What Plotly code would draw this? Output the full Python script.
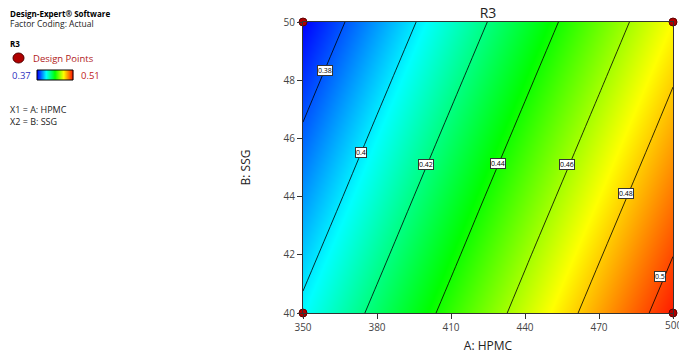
import plotly.graph_objects as go
from plotly.colors import sample_colorscale

# Factor grid (A: HPMC, B: SSG) and response R3
hpmc = [350, 380, 410, 440, 470, 500]
ssg = [40, 42, 44, 46, 48, 50]
r3 = [
    [0.4026, 0.4234, 0.4442, 0.4650, 0.4859, 0.5067],  # B=40
    [0.3957, 0.4165, 0.4373, 0.4582, 0.4790, 0.4998],  # B=42
    [0.3888, 0.4096, 0.4305, 0.4513, 0.4721, 0.4929],  # B=44
    [0.3819, 0.4028, 0.4236, 0.4444, 0.4652, 0.4860],  # B=46
    [0.3751, 0.3959, 0.4167, 0.4375, 0.4583, 0.4792],  # B=48
    [0.3682, 0.3890, 0.4098, 0.4306, 0.4514, 0.4723],  # B=50
]
design_a = [350, 350, 500, 500]
design_b = [40, 50, 40, 50]

label_levels = ["0.38", "0.4", "0.42", "0.44", "0.46", "0.48", "0.5"]
label_a = [358.9, 373.5, 399.9, 429.0, 457.0, 480.9, 494.7]
label_b = [48.32, 45.5, 45.12, 45.15, 45.12, 44.12, 41.24]

x_ticks = [350, 380, 410, 440, 470, 500]
y_ticks = [40, 42, 44, 46, 48, 50]

cscale = [[0, "#0000ff"], [0.25, "#00ffff"], [0.5, "#00ff00"], [0.75, "#ffff00"], [1, "#ff1a00"]]
zmin = min(min(r) for r in r3)
zmax = max(max(r) for r in r3)

FONT = "Open Sans"
W, H = 679, 360
L, R, T, B = 303, 6, 22, 47
PW, PH = W - L - R, H - T - B

def px(x): return (x - L) / PW
def py(y): return 1 - (y - T) / PH

fig = go.Figure()
fig.add_trace(go.Contour(
    x=hpmc, y=ssg, z=r3, colorscale=cscale, zmin=zmin, zmax=zmax,
    contours=dict(start=0.38, end=0.5, size=0.02, coloring="heatmap", showlines=True),
    line=dict(color="black", width=0.8), showscale=False, hoverinfo="skip",
))
fig.add_trace(go.Scatter(
    x=design_a, y=design_b, mode="markers", cliponaxis=False,
    marker=dict(size=8, color="#b00000", line=dict(color="#600000", width=1)),
    showlegend=False,
))

for t, a, b in zip(label_levels, label_a, label_b):
    fig.add_annotation(x=a, y=b, text=t, showarrow=False,
                       font=dict(size=7, color="black", family=FONT),
                       bgcolor="white", bordercolor="#333", borderwidth=1, borderpad=0)

# last x tick label (cut by the figure edge as in the reference)
fig.add_annotation(x=x_ticks[-1], y=py(325), yref="paper", text=str(x_ticks[-1]), showarrow=False,
                   xanchor="center", yanchor="middle", font=dict(size=10, color="#444", family=FONT))

texts = [
    (8, 13, "<b>Design-Expert® Software</b>", "black", 8),
    (8, 24, "Factor Coding: Actual", "#222", 8.5),
    (8, 44, "<b>R3</b>", "black", 8),
    (31, 58, "Design Points", "#b02020", 9.5),
    (10, 75, "0.37", "#3030c0", 9.5),
    (79, 75, "0.51", "#c02020", 9.5),
    (8, 109.5, "X1 = A: HPMC", "#222", 9),
    (8, 121.5, "X2 = B: SSG", "#222", 9),
]
for x, y, t, c, s in texts:
    fig.add_annotation(x=px(x), y=py(y), xref="paper", yref="paper", text=t, showarrow=False,
                       xanchor="left", yanchor="middle", font=dict(size=s, color=c, family=FONT))

fig.add_shape(type="circle", xref="paper", yref="paper",
              x0=px(13), x1=px(24), y0=py(63), y1=py(53),
              fillcolor="#b00000", line=dict(color="#500000", width=1))

# legend gradient bar
x0, x1 = 37, 73
n = x1 - x0
cols = sample_colorscale(cscale, [i / (n - 1) for i in range(n)])
for i, c in enumerate(cols):
    fig.add_shape(type="rect", xref="paper", yref="paper",
                  x0=px(x0 + i), x1=px(x0 + i + 1.2), y0=py(80), y1=py(70),
                  fillcolor=c, line=dict(width=0), layer="above")
fig.add_shape(type="rect", xref="paper", yref="paper",
              x0=px(x0), x1=px(x1), y0=py(80), y1=py(70),
              line=dict(color="black", width=1))

fig.update_layout(
    width=W, height=H, margin=dict(l=L, r=R, t=T, b=B),
    paper_bgcolor="white", plot_bgcolor="white",
    font=dict(family=FONT, color="#333"),
    title=dict(text="R3", x=(L + W - R) / 2 / W, xanchor="center", y=1 - 13 / H, yanchor="middle",
               font=dict(size=14, color="#222", family=FONT)),
    xaxis=dict(range=[350, 500], tickvals=x_ticks, ticks="outside", ticklen=5, tickcolor="#333",
               showline=True, linecolor="#333", mirror=True, showgrid=False, zeroline=False,
               tickfont=dict(size=10, color="#444"),
               title=dict(text="A: HPMC", font=dict(size=12, color="#222"), standoff=8)),
    yaxis=dict(range=[40, 50], tickvals=y_ticks, ticks="outside", ticklen=5, tickcolor="#333",
               showline=True, linecolor="#333", mirror=True, showgrid=False, zeroline=False,
               tickfont=dict(size=10, color="#444"),
               title=dict(text="B: SSG", font=dict(size=12, color="#222"), standoff=30)),
    showlegend=False,
)

fig.write_html("out.html")
